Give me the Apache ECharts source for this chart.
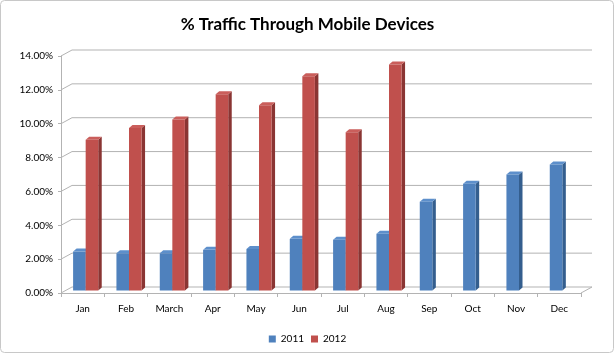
<!DOCTYPE html>
<html>
<head>
<meta charset="utf-8">
<script src="https://cdn.jsdelivr.net/npm/echarts@6/dist/echarts.min.js"></script>
<style>
  html, body { margin: 0; padding: 0; background: #fff; }
  #chart { width: 615px; height: 354px; }
</style>
</head>
<body>
<div id="chart"></div>
<script>
// Data
var months = ['Jan', 'Feb', 'March', 'Apr', 'May', 'Jun', 'Jul', 'Aug', 'Sep', 'Oct', 'Nov', 'Dec'];
var traffic2011 = [2.3, 2.2, 2.2, 2.4, 2.45, 3.05, 3.0, 3.35, 5.25, 6.3, 6.85, 7.45];
var traffic2012 = [8.9, 9.6, 10.1, 11.6, 10.95, 12.65, 9.35, 13.35, null, null, null, null];
var yTicks = [0, 2, 4, 6, 8, 10, 12, 14];

var chart = echarts.init(document.getElementById('chart'));

// 3D look: wall depth and bar depth (pixels)
var WALL_DX = 11, WALL_DY = 6;
var SHIFT_X = 3, SHIFT_Y = 2.5;
var BAR_DX = 3.5, BAR_DY = 3;
var gridColor = '#b3b3b3';

function toData(values) {
    var out = [];
    values.forEach(function (v, i) {
        if (v != null) out.push([i, v]);
    });
    return out;
}

// draws one 3D-ish bar: front face, right side, top
function barRenderer(left, front, sideCol, topCol) {
    return function (params, api) {
        var idx = api.value(0);
        var v = api.value(1);
        var base = api.coord([idx, 0]);
        var tip = api.coord([idx, v]);
        var band = api.size([1, 0])[0];
        var w = band * 0.29;
        var x = base[0] + SHIFT_X + (left ? -w : 0);
        var y0 = base[1] - SHIFT_Y;
        var y1 = tip[1] - SHIFT_Y;
        return {
            type: 'group',
            children: [
                {
                    type: 'polygon',
                    shape: { points: [[x + w, y1], [x + w + BAR_DX, y1 - BAR_DY], [x + w + BAR_DX, y0 - BAR_DY], [x + w, y0]] },
                    style: { fill: sideCol }
                },
                {
                    type: 'polygon',
                    shape: { points: [[x, y1], [x + BAR_DX, y1 - BAR_DY], [x + w + BAR_DX, y1 - BAR_DY], [x + w, y1]] },
                    style: { fill: topCol }
                },
                {
                    type: 'rect',
                    shape: { x: x, y: y1, width: w, height: y0 - y1 },
                    style: { fill: front }
                }
            ]
        };
    };
}

// back wall gridlines + left wall diagonals
function wallRenderer(params, api) {
    var cs = params.coordSys;
    var v = api.value(1);
    var y = api.coord([0, v])[1];
    var x0 = cs.x, x1 = cs.x + cs.width;
    var kids = [
        { type: 'line', shape: { x1: x0, y1: y, x2: x0 + WALL_DX, y2: y - WALL_DY }, style: { stroke: gridColor, lineWidth: 1 } },
        { type: 'line', shape: { x1: x0 + WALL_DX, y1: y - WALL_DY, x2: x1 + WALL_DX, y2: y - WALL_DY }, style: { stroke: gridColor, lineWidth: 1 } }
    ];
    if (v === 0) {
        kids.push({ type: 'line', shape: { x1: x1, y1: y, x2: x1 + WALL_DX, y2: y - WALL_DY }, style: { stroke: gridColor, lineWidth: 1 } });
    }
    return { type: 'group', children: kids };
}

var option = {
    backgroundColor: '#fff',
    textStyle: { fontFamily: 'Lato' },
    title: {
        text: '% Traffic Through Mobile Devices',
        left: 'center',
        top: 11,
        textStyle: { fontFamily: 'Lato', fontSize: 17, fontWeight: 'bold', color: '#000' }
    },
    legend: {
        data: ['2011', '2012'],
        bottom: 5,
        left: 'center',
        icon: 'rect',
        itemWidth: 7,
        itemHeight: 7,
        itemGap: 7,
        textStyle: { fontSize: 10, color: '#000' }
    },
    graphic: [{
        type: 'rect',
        shape: { x: 0.5, y: 0.5, width: 613, height: 352, r: 4 },
        style: { fill: 'none', stroke: '#c8c8c8', lineWidth: 1 },
        silent: true
    }],
    grid: { left: 61, right: 34, top: 56, bottom: 61 },
    xAxis: {
        type: 'category',
        data: months,
        axisLine: { lineStyle: { color: gridColor } },
        axisTick: { show: true, length: 4, lineStyle: { color: gridColor } },
        axisLabel: { color: '#000', fontSize: 10, margin: 11 }
    },
    yAxis: {
        type: 'value',
        min: 0,
        max: 14,
        interval: 2,
        axisLine: { show: true, lineStyle: { color: gridColor } },
        axisTick: { show: true, length: 3, lineStyle: { color: gridColor } },
        splitLine: { show: false },
        axisLabel: {
            color: '#000',
            fontSize: 10,
            margin: 8,
            formatter: function (v) { return v.toFixed(2) + '%'; }
        }
    },
    series: [
        {
            name: 'wall',
            type: 'custom',
            silent: true,
            z: 1,
            renderItem: wallRenderer,
            data: yTicks.map(function (v) { return [0, v]; })
        },
        {
            name: '2011',
            type: 'custom',
            z: 2,
            itemStyle: { color: '#4F81BD' },
            renderItem: barRenderer(true, '#4F81BD', '#345E8E', '#5D8FCB'),
            data: toData(traffic2011)
        },
        {
            name: '2012',
            type: 'custom',
            z: 3,
            itemStyle: { color: '#C0504D' },
            renderItem: barRenderer(false, '#C0504D', '#8A3533', '#CA5E5B'),
            data: toData(traffic2012)
        }
    ]
};

chart.setOption(option);

window.addEventListener('resize', function () {
    chart.resize();
});
</script>
</body>
</html>
